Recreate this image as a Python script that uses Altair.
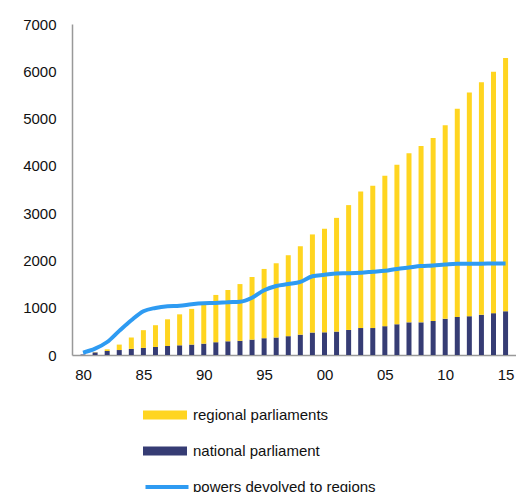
import altair as alt
import pandas as pd

years = list(range(1980, 2016))
# total height of stacked bars (national + regional)
totals = [10, 60, 120, 220, 370, 525, 630, 755, 860, 975,
          1115, 1270, 1375, 1500, 1650, 1820, 1940, 2110, 2300, 2550,
          2670, 2900, 3170, 3460, 3580, 3790, 4025, 4265, 4420, 4590,
          4860, 5210, 5550, 5770, 5990, 6280]
national = [10, 55, 85, 105, 130, 150, 170, 190, 205, 220,
            240, 270, 290, 300, 325, 355, 370, 398, 430, 475,
            480, 495, 530, 570, 570, 610, 650, 690, 690, 720,
            765, 805, 820, 850, 885, 925]
regional = [t - n for t, n in zip(totals, national)]
powers = [50, 135, 275, 510, 735, 925, 995, 1030, 1040, 1075,
          1095, 1100, 1115, 1125, 1210, 1370, 1460, 1500, 1545, 1665,
          1695, 1725, 1730, 1740, 1760, 1780, 1820, 1850, 1880, 1895,
          1915, 1930, 1930, 1930, 1935, 1935]

bar_names = ["regional parliaments", "national parliament"]
bar_colors = ["#FFD520", "#363C74"]
line_name = "powers devolved to regions"
line_color = "#2E9BF2"

rows = []
for y, n, r in zip(years, national, regional):
    rows.append({"year": y, "series": "national parliament", "value": n, "order": 0})
    rows.append({"year": y, "series": "regional parliaments", "value": r, "order": 1})
bars_df = pd.DataFrame(rows)
line_df = pd.DataFrame({"year": years, "value": powers, "name": line_name})

font = "Liberation Sans"

x_enc = alt.X(
    "year:Q",
    scale=alt.Scale(domain=[1979.5, 2015.45], nice=False, zero=False),
    axis=alt.Axis(
        values=list(range(1980, 2016, 5)),
        labelExpr="(datum.value % 100) < 10 ? '0' + (datum.value % 100) : '' + (datum.value % 100)",
        title=None, grid=False, ticks=False, labelFontSize=15, labelFont=font,
        labelColor="#111", labelPadding=12, domainColor="#999", domainWidth=1.5,
        labelFlush=False,
    ),
)
y_scale = alt.Scale(domain=[0, 7000], nice=False)
y_axis = alt.Axis(
    values=list(range(0, 7001, 1000)), format="d", title=None, grid=False, ticks=False,
    labelFontSize=15, labelFont=font, labelColor="#111", labelPadding=16,
    domainColor="#999", domainWidth=1.5,
)

bars = alt.Chart(bars_df).mark_bar(size=5).encode(
    x=x_enc,
    y=alt.Y("value:Q", stack="zero", scale=y_scale, axis=y_axis),
    order=alt.Order("order:Q"),
    fill=alt.Fill(
        "series:N",
        scale=alt.Scale(domain=bar_names, range=bar_colors),
        legend=alt.Legend(
            title=None, orient="none", legendX=71, legendY=383, direction="vertical",
            symbolType="M-1,-0.21H1V0.21H-1Z", symbolSize=1936, symbolStrokeWidth=0,
            labelFontSize=15, labelFont=font, labelColor="#111", rowPadding=20,
            clipHeight=16, labelOffset=6, symbolOffset=0, labelLimit=400,
        ),
    ),
)

line = alt.Chart(line_df).mark_line(strokeWidth=4, interpolate="monotone").encode(
    x=alt.X("year:Q"),
    y=alt.Y("value:Q"),
    stroke=alt.Stroke(
        "name:N",
        scale=alt.Scale(domain=[line_name], range=[line_color]),
        legend=alt.Legend(
            title=None, orient="none", legendX=71, legendY=455,
            symbolType="stroke", symbolSize=1850, symbolStrokeWidth=4,
            labelFontSize=15, labelFont=font, labelColor="#111", labelOffset=2,
            clipHeight=16, labelLimit=400,
        ),
    ),
)

chart = alt.layer(bars, line).properties(
    width=444, height=331,
    autosize=alt.AutoSizeParams(type="none"),
    padding={"left": 64, "top": 16, "right": 0, "bottom": 137},
).configure_view(stroke=None)

chart.save("out.html", embed_options={"renderer": "svg", "actions": False})
